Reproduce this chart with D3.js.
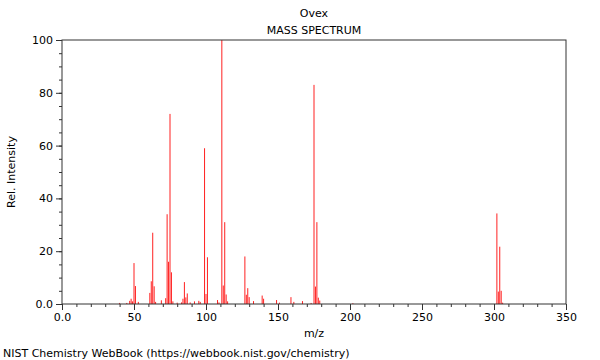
<!DOCTYPE html>
<html><head><meta charset="utf-8">
<script src="https://cdn.jsdelivr.net/npm/d3@7"></script>
<style>body{margin:0;background:#fff}svg{display:block}text{font-family:"DejaVu Sans",sans-serif}</style>
</head><body><svg id="c" width="600" height="360"></svg>
<script>
const title = "Ovex";
const subtitle = "MASS SPECTRUM";
const mz = [40,45,47,48,49,50,51,53,61,62,63,64,65,69,72,73,74,75,76,77,80,83,84,85,86,87,89,92,95,96,99,100,101,108,109,111,112,113,114,115,127,128,129,130,133,139,140,149,151,159,161,167,173,175,176,177,178,179,202,302,303,304,305,306];
const intensity = [0.4,0.4,1.2,2.0,1.0,15.5,6.8,0.8,4.2,8.6,27,6.7,0.8,1.4,2.2,34,16,72,12,1.0,0.5,0.6,2.0,8.3,2.5,4.0,0.6,1.0,1.2,0.8,59,3.8,17.7,1.5,0.6,100,7,31,3.6,1.0,18,3.5,6,2.6,1.1,3.2,2.0,1.5,0.5,2.6,0.8,1.1,0.4,83,6.6,31,2.4,1.3,0.3,34.3,4.7,21.7,5,0.5];
const xTicks = [0,50,100,150,200,250,300,350];
const xTickLabels = ["0.0","50","100","150","200","250","300","350"];
const yTicks = [0,20,40,60,80,100];
const yTickLabels = ["0.0","20","40","60","80","100"];

const svg = d3.select("#c");
const L=62,R=566,T=40,B=304;
const x = d3.scaleLinear().domain([0,350]).range([L,R]);
const y = d3.scaleLinear().domain([0,100]).range([B,T]);

// peaks
svg.append("g").selectAll("line").data(mz.map((m,i)=>({m,v:intensity[i]}))).join("line")
  .attr("x1",d=>x(d.m)).attr("x2",d=>x(d.m))
  .attr("y1",y(0)).attr("y2",d=>y(d.v))
  .attr("stroke","#ff2020").attr("stroke-width",1);

// frame
svg.append("rect").attr("x",L).attr("y",T).attr("width",R-L).attr("height",B-T)
  .attr("fill","none").attr("stroke","#333").attr("stroke-width",1);

// x axis
const xa = svg.append("g").attr("transform",`translate(0,${B})`)
  .call(d3.axisBottom(x).tickValues(d3.range(0,351,10)).tickSize(3).tickFormat(""));
xa.select(".domain").remove();
xa.selectAll("line").attr("stroke","#333");
const xb = svg.append("g").attr("transform",`translate(0,${B})`)
  .call(d3.axisBottom(x).tickValues(xTicks).tickSize(6).tickPadding(3).tickFormat((d,i)=>xTickLabels[i]));
xb.select(".domain").remove();
xb.selectAll("line").attr("stroke","#333");
xb.selectAll("text").attr("font-size",11).attr("fill","#000").attr("font-family","DejaVu Sans");

// y axis
const ya = svg.append("g").attr("transform",`translate(${L},0)`)
  .call(d3.axisLeft(y).tickValues(d3.range(0,101,5)).tickSize(3).tickFormat(""));
ya.select(".domain").remove();
ya.selectAll("line").attr("stroke","#333");
const yb = svg.append("g").attr("transform",`translate(${L},0)`)
  .call(d3.axisLeft(y).tickValues(yTicks).tickSize(6).tickPadding(3).tickFormat((d,i)=>yTickLabels[i]));
yb.select(".domain").remove();
yb.selectAll("line").attr("stroke","#333");
yb.selectAll("text").attr("font-size",11).attr("fill","#000").attr("font-family","DejaVu Sans");

// titles
svg.append("text").attr("x",(L+R)/2).attr("y",17).attr("text-anchor","middle").attr("font-size",11).text(title);
svg.append("text").attr("x",(L+R)/2).attr("y",34).attr("text-anchor","middle").attr("font-size",11).text(subtitle);
svg.append("text").attr("x",(L+R)/2).attr("y",337).attr("text-anchor","middle").attr("font-size",11).text("m/z");
svg.append("text").attr("transform",`translate(15,${(T+B)/2}) rotate(-90)`).attr("text-anchor","middle").attr("font-size",11).text("Rel. Intensity");
svg.append("text").attr("x",3).attr("y",357).attr("font-size",11).text("NIST Chemistry WebBook (https://webbook.nist.gov/chemistry)");
</script></body></html>
